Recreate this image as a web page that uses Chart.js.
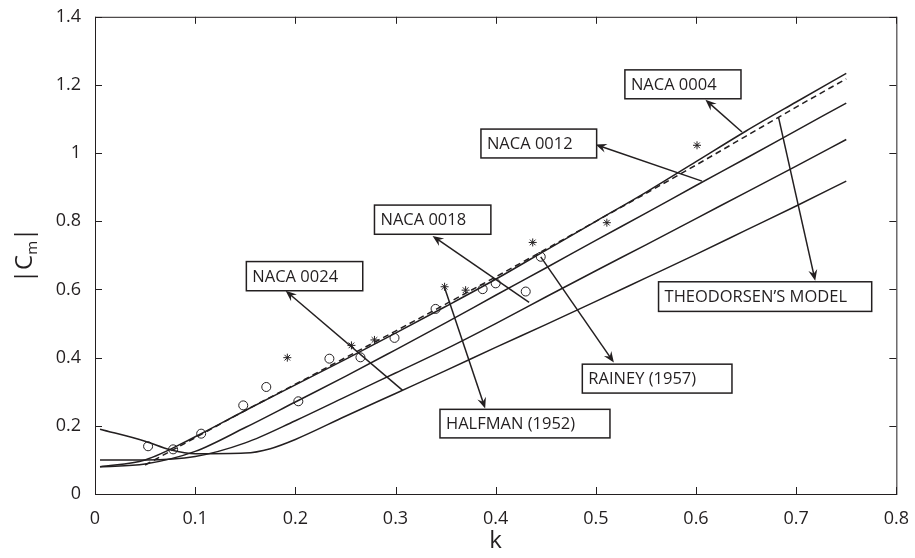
<!DOCTYPE html>
<html>
<head>
<meta charset="utf-8">
<script src="https://cdn.jsdelivr.net/npm/chart.js@4.4.1/dist/chart.umd.min.js"></script>
<style>
html, body { margin: 0; padding: 0; background: #fff; }
#wrap { width: 915px; height: 558px; }
</style>
</head>
<body>
<div id="wrap"><canvas id="chart" width="915" height="558"></canvas></div>
<script>
// reduced frequency k and |Cm|
const kGrid = [0.005, 0.05, 0.1, 0.15, 0.2, 0.25, 0.3, 0.35, 0.4, 0.45, 0.5, 0.55, 0.6, 0.65, 0.7, 0.75];
const naca0004 = [0.08, 0.10, 0.168, 0.245, 0.32, 0.395, 0.472, 0.55, 0.63, 0.715, 0.80, 0.885, 0.975, 1.065, 1.15, 1.234];
const naca0012 = [0.08, 0.088, 0.125, 0.195, 0.27, 0.345, 0.423, 0.502, 0.583, 0.663, 0.744, 0.824, 0.905, 0.985, 1.066, 1.147];
const naca0018 = [0.10, 0.10, 0.11, 0.15, 0.215, 0.285, 0.355, 0.425, 0.50, 0.578, 0.655, 0.731, 0.808, 0.885, 0.962, 1.04];

const k0024 = [0.005, 0.05, 0.075, 0.1, 0.15, 0.175, 0.2, 0.25, 0.3, 0.35, 0.4, 0.45, 0.5, 0.55, 0.6, 0.65, 0.7, 0.75];
const naca0024 = [0.19, 0.155, 0.13, 0.118, 0.12, 0.133, 0.16, 0.228, 0.295, 0.362, 0.43, 0.497, 0.565, 0.634, 0.703, 0.774, 0.845, 0.918];

const kTheo = [0.05, 0.1, 0.15, 0.2, 0.25, 0.3, 0.35, 0.4, 0.45, 0.5, 0.55, 0.6, 0.65, 0.7, 0.75];
const theodorsen = [0.085, 0.165, 0.245, 0.322, 0.40, 0.478, 0.557, 0.637, 0.718, 0.80, 0.882, 0.965, 1.05, 1.135, 1.218];

// experiments
const kRainey = [0.053, 0.078, 0.106, 0.148, 0.171, 0.203, 0.234, 0.265, 0.299, 0.34, 0.387, 0.40, 0.43, 0.445];
const cmRainey = [0.140, 0.131, 0.177, 0.26, 0.314, 0.272, 0.397, 0.401, 0.458, 0.543, 0.601, 0.618, 0.594, 0.696];
const kHalfman = [0.192, 0.256, 0.279, 0.349, 0.370, 0.437, 0.511, 0.601];
const cmHalfman = [0.40, 0.436, 0.452, 0.608, 0.598, 0.738, 0.796, 1.023];

const xTicks = [0, 0.1, 0.2, 0.3, 0.4, 0.5, 0.6, 0.7, 0.8];
const xTickLabels = ['0', '0.1', '0.2', '0.3', '0.4', '0.5', '0.6', '0.7', '0.8'];
const yTicks = [0, 0.2, 0.4, 0.6, 0.8, 1, 1.2, 1.4];
const yTickLabels = ['0', '0.2', '0.4', '0.6', '0.8', '1', '1.2', '1.4'];

// text boxes: box corners [k1, cm1, k2, cm2], arrow from [k, cm] to [k, cm]
const notes = [
    { text: 'NACA 0004', box: [0.529, 1.2443, 0.6449, 1.1595], from: [0.6459, 1.0619], to: [0.6094, 1.1566] },
    { text: 'NACA 0012', box: [0.3853, 1.0706, 0.5008, 0.9859], from: [0.606, 0.9178], to: [0.4998, 1.025] },
    { text: 'NACA 0018', box: [0.279, 0.8476, 0.3952, 0.762], from: [0.4334, 0.5621], to: [0.337, 0.757] },
    { text: 'NACA 0024', box: [0.1511, 0.6819, 0.2673, 0.5963], from: [0.3071, 0.304], to: [0.1903, 0.5963] },
    { text: 'THEODORSEN\u2019S MODEL', box: [0.5626, 0.6226, 0.7754, 0.5357], from: [0.6824, 1.1048], to: [0.719, 0.6255] },
    { text: 'RAINEY (1957)', box: [0.4865, 0.3809, 0.6359, 0.2961], from: [0.445, 0.6956], to: [0.518, 0.3858] },
    { text: 'HALFMAN (1952)', box: [0.3444, 0.2484, 0.5141, 0.1646], from: [0.3487, 0.608], to: [0.3895, 0.2505] }
];

const ink = '#231f20';
const fontFamily = "'Open Sans', 'Noto Sans', sans-serif";

function pts(xs, ys) {
    return xs.map((x, i) => ({ x: x, y: ys[i] }));
}

function curve(label, xs, ys, dash) {
    return {
        label: label,
        data: pts(xs, ys),
        showLine: true,
        borderColor: ink,
        borderWidth: 1.5,
        borderDash: dash || [],
        pointRadius: 0,
        cubicInterpolationMode: 'monotone',
        fill: false
    };
}

function arrow(ctx, x1, y1, x2, y2) {
    const dx = x2 - x1, dy = y2 - y1;
    const len = Math.hypot(dx, dy);
    const ux = dx / len, uy = dy / len;
    const nx = -uy, ny = ux;
    const L = 11, W = 4.5;
    ctx.beginPath();
    ctx.moveTo(x1, y1);
    ctx.lineTo(x2 - ux * L * 0.6, y2 - uy * L * 0.6);
    ctx.stroke();
    ctx.beginPath();
    ctx.moveTo(x2, y2);
    ctx.lineTo(x2 - ux * L + nx * W, y2 - uy * L + ny * W);
    ctx.lineTo(x2 - ux * L * 0.65, y2 - uy * L * 0.65);
    ctx.lineTo(x2 - ux * L - nx * W, y2 - uy * L - ny * W);
    ctx.closePath();
    ctx.fill();
}

// рамка, вътрешни чертички, надписи на осите и анотации
const decorations = {
    id: 'decorations',
    afterDatasetsDraw(chart) {
        const ctx = chart.ctx;
        const xs = chart.scales.x, ys = chart.scales.y;
        ctx.save();
        ctx.strokeStyle = ink;
        ctx.fillStyle = ink;
        ctx.lineWidth = 1.5;
        notes.forEach(n => {
            arrow(ctx, xs.getPixelForValue(n.from[0]), ys.getPixelForValue(n.from[1]),
                xs.getPixelForValue(n.to[0]), ys.getPixelForValue(n.to[1]));
        });
        notes.forEach(n => {
            const bx1 = xs.getPixelForValue(n.box[0]), by1 = ys.getPixelForValue(n.box[1]);
            const bx2 = xs.getPixelForValue(n.box[2]), by2 = ys.getPixelForValue(n.box[3]);
            ctx.fillStyle = '#fff';
            ctx.fillRect(bx1, by1, bx2 - bx1, by2 - by1);
            ctx.lineWidth = 1.5;
            ctx.strokeRect(bx1, by1, bx2 - bx1, by2 - by1);
            ctx.fillStyle = ink;
            ctx.font = '16.5px ' + fontFamily;
            ctx.textAlign = 'left';
            ctx.textBaseline = 'middle';
            ctx.fillText(n.text, bx1 + 6, (by1 + by2) / 2 + 1);
        });
        ctx.restore();
    },
    afterDraw(chart) {
        const ctx = chart.ctx;
        const a = chart.chartArea;
        const xs = chart.scales.x, ys = chart.scales.y;
        ctx.save();
        ctx.strokeStyle = ink;
        ctx.lineWidth = 1;
        ctx.strokeRect(a.left + 0.5, a.top + 0.5, a.right - a.left, a.bottom - a.top);
        const tl = 7;
        ctx.beginPath();
        xTicks.forEach(v => {
            const px = Math.round(xs.getPixelForValue(v)) + 0.5;
            ctx.moveTo(px, a.bottom); ctx.lineTo(px, a.bottom - tl);
            ctx.moveTo(px, a.top); ctx.lineTo(px, a.top + tl);
        });
        yTicks.forEach(v => {
            const py = Math.round(ys.getPixelForValue(v)) + 0.5;
            ctx.moveTo(a.left, py); ctx.lineTo(a.left + tl, py);
            ctx.moveTo(a.right, py); ctx.lineTo(a.right - tl, py);
        });
        ctx.stroke();

        // axis titles
        ctx.fillStyle = ink;
        ctx.textBaseline = 'alphabetic';
        ctx.textAlign = 'center';
        ctx.font = '24px ' + fontFamily;
        ctx.fillText('k', (a.left + a.right) / 2, 548);

        ctx.translate(24, (a.top + a.bottom) / 2);
        ctx.rotate(-Math.PI / 2);
        ctx.textAlign = 'left';
        const big = '24px ' + fontFamily, small = '15px ' + fontFamily;
        ctx.font = big;
        const w1 = ctx.measureText('|C').width, w3 = ctx.measureText('|').width;
        ctx.font = small;
        const w2 = ctx.measureText('m').width;
        let x0 = -(w1 + w2 + w3) / 2;
        ctx.font = big;
        ctx.fillText('|C', x0, 8);
        ctx.font = small;
        ctx.fillText('m', x0 + w1, 13);
        ctx.font = big;
        ctx.fillText('|', x0 + w1 + w2, 8);
        ctx.restore();
    }
};

new Chart(document.getElementById('chart'), {
    type: 'scatter',
    data: {
        datasets: [
            curve('NACA 0004', kGrid, naca0004),
            curve('NACA 0012', kGrid, naca0012),
            curve('NACA 0018', kGrid, naca0018),
            curve('NACA 0024', k0024, naca0024),
            curve("Theodorsen's model", kTheo, theodorsen, [6, 4]),
            {
                label: 'Rainey (1957)',
                data: pts(kRainey, cmRainey),
                pointStyle: 'circle',
                pointRadius: 4.5,
                borderColor: ink,
                backgroundColor: 'rgba(0,0,0,0)',
                borderWidth: 1
            },
            {
                label: 'Halfman (1952)',
                data: pts(kHalfman, cmHalfman),
                pointStyle: 'star',
                pointRadius: 4,
                borderColor: ink,
                backgroundColor: ink,
                borderWidth: 1
            }
        ]
    },
    options: {
        responsive: false,
        animation: false,
        devicePixelRatio: 1,
        layout: { padding: { top: 15, right: 17, left: 0, bottom: 0 } },
        plugins: {
            legend: { display: false },
            tooltip: { enabled: false }
        },
        scales: {
            x: {
                type: 'linear',
                min: 0,
                max: 0.8,
                afterBuildTicks: s => { s.ticks = xTicks.map(v => ({ value: v })); },
                afterFit: s => { s.height = 64; },
                grid: { display: false },
                border: { display: false },
                ticks: {
                    padding: 6,
                    color: ink,
                    maxRotation: 0,
                    autoSkip: false,
                    font: { family: fontFamily, size: 18 },
                    callback: (v, i) => xTickLabels[i]
                }
            },
            y: {
                type: 'linear',
                min: 0,
                max: 1.4,
                afterBuildTicks: s => { s.ticks = yTicks.map(v => ({ value: v })); },
                afterFit: s => { s.width = 95; },
                grid: { display: false },
                border: { display: false },
                ticks: {
                    padding: 6,
                    color: ink,
                    autoSkip: false,
                    font: { family: fontFamily, size: 18 },
                    callback: (v, i) => yTickLabels[i]
                }
            }
        }
    },
    plugins: [decorations]
});
</script>
</body>
</html>
